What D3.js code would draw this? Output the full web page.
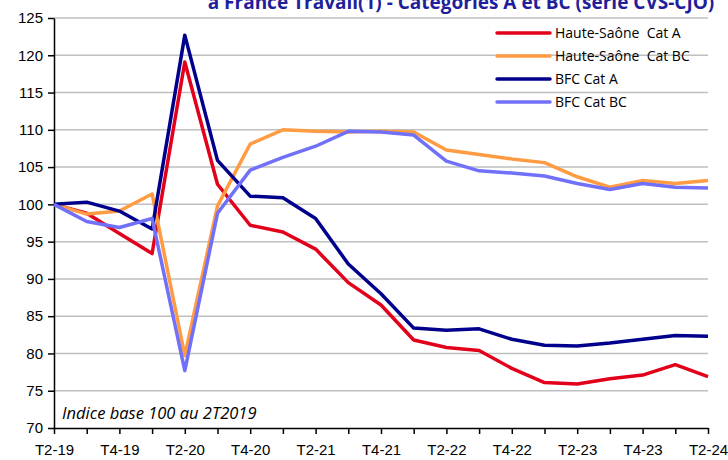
<!DOCTYPE html>
<html>
<head>
<meta charset="utf-8">
<script src="https://cdn.jsdelivr.net/npm/d3@7"></script>
<style>
  body { margin: 0; background: #fff; }
  svg { font-family: "Open Sans", Lato, sans-serif; }
</style>
</head>
<body>
<div id="chart"></div>
<script>
const quarters = ["T2-19", "T3-19", "T4-19", "T1-20", "T2-20", "T3-20", "T4-20", "T1-21", "T2-21", "T3-21", "T4-21",
    "T1-22", "T2-22", "T3-22", "T4-22", "T1-23", "T2-23", "T3-23", "T4-23", "T1-24", "T2-24"];

const hsCatA = [100, 98.8, 96.1, 93.4, 119.1, 102.7, 97.2, 96.3, 94.0, 89.5, 86.5, 81.8, 80.8, 80.4, 78.0, 76.1, 75.9, 76.6, 77.1, 78.5, 76.9];
const hsCatBC = [100, 98.7, 99.1, 101.4, 79.7, 99.8, 108.1, 110.0, 109.8, 109.7, 109.8, 109.7, 107.3, 106.7, 106.1, 105.6, 103.7, 102.3, 103.2, 102.8, 103.2];
const bfcCatA = [100, 100.3, 99.1, 96.7, 122.7, 105.9, 101.1, 100.9, 98.1, 92.0, 88.0, 83.4, 83.1, 83.3, 81.9, 81.1, 81.0, 81.4, 81.9, 82.4, 82.3];
const bfcCatBC = [100, 97.7, 96.9, 98.1, 77.7, 98.8, 104.6, 106.3, 107.8, 109.8, 109.7, 109.3, 105.8, 104.5, 104.2, 103.8, 102.8, 102.0, 102.8, 102.3, 102.2];

const seriesNames = ["Haute-Saône  Cat A", "Haute-Saône  Cat BC", "BFC Cat A", "BFC Cat BC"];
const seriesColors = ["#e2001a", "#ff9b42", "#00008c", "#7070f8"];
const yTicks = [70, 75, 80, 85, 90, 95, 100, 105, 110, 115, 120, 125];

const width = 728, height = 460;
const margin = { top: 18, right: 20, bottom: 32, left: 54 };

const svg = d3.select("#chart")
    .append("svg")
    .attr("width", width)
    .attr("height", height);

const x = d3.scalePoint()
    .domain(quarters)
    .range([margin.left, width - margin.right]);

const y = d3.scaleLinear()
    .domain([70, 125])
    .range([height - margin.bottom, margin.top]);

// title (first line is off the top of the picture)
svg.append("text")
    .attr("x", 461)
    .attr("y", 9)
    .attr("text-anchor", "middle")
    .attr("fill", "#1f1f9c")
    .style("font-size", "19px")
    .style("font-weight", "bold")
    .text("à France Travail(1) - Catégories A et BC (série CVS-CJO)");

// grid lines
svg.append("g")
    .selectAll("line")
    .data(yTicks.filter(d => d > 70))
    .join("line")
    .attr("x1", margin.left)
    .attr("x2", width - margin.right)
    .attr("y1", d => y(d))
    .attr("y2", d => y(d))
    .attr("stroke", "#bfbfbf")
    .attr("stroke-width", 1.5);

// Y axis
const yAxis = svg.append("g")
    .attr("transform", `translate(${margin.left},0)`)
    .call(d3.axisLeft(y).tickValues(yTicks).tickSize(6).tickSizeOuter(0));
yAxis.selectAll("text").style("font-size", "15px").attr("fill", "#000").attr("x", -11);
yAxis.select(".domain").attr("stroke", "#000").attr("stroke-width", 1.5);
yAxis.selectAll(".tick line").attr("stroke", "#000").attr("stroke-width", 1.5);

// X axis
const xAxis = svg.append("g")
    .attr("transform", `translate(0,${height - margin.bottom})`)
    .call(d3.axisBottom(x).tickSize(6).tickSizeOuter(0)
        .tickFormat((d, i) => i % 2 === 0 ? d : ""));
xAxis.selectAll("text").style("font-size", "15px").attr("fill", "#000").attr("y", 16);
xAxis.select(".domain").attr("stroke", "#000").attr("stroke-width", 1.5);
xAxis.selectAll(".tick line").attr("stroke", "#000").attr("stroke-width", 1.5);

// note
svg.append("text")
    .attr("x", 62)
    .attr("y", 419)
    .style("font-size", "16.5px")
    .style("font-style", "italic")
    .attr("fill", "#000")
    .text("Indice base 100 au 2T2019");

// lines
const allSeries = [hsCatA, hsCatBC, bfcCatA, bfcCatBC];
const line = d3.line()
    .x((d, i) => x(quarters[i]))
    .y(d => y(d));

svg.append("g")
    .selectAll("path")
    .data(allSeries)
    .join("path")
    .attr("d", d => line(d))
    .attr("fill", "none")
    .attr("stroke", (d, i) => seriesColors[i])
    .attr("stroke-width", 3.5)
    .attr("stroke-linejoin", "round");

// legend
const legend = svg.append("g")
    .attr("transform", "translate(497,33)");
const items = legend.selectAll("g")
    .data(seriesNames)
    .join("g")
    .attr("transform", (d, i) => `translate(0,${i * 23})`);
items.append("line")
    .attr("x1", 0).attr("x2", 53)
    .attr("stroke", (d, i) => seriesColors[i])
    .attr("stroke-width", 3.5)
    .attr("stroke-linecap", "round");
items.append("text")
    .attr("x", 58)
    .attr("dy", "0.35em")
    .style("font-size", "14px")
    .style("white-space", "pre")
    .attr("fill", "#000")
    .text(d => d);
</script>
</body>
</html>
